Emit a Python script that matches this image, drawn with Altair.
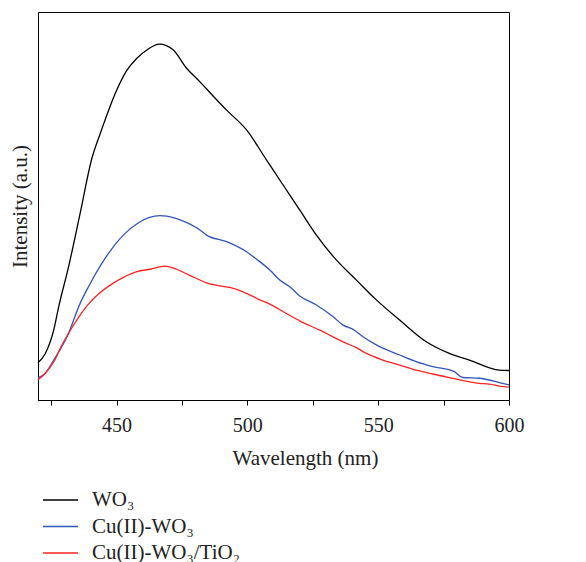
import altair as alt
import pandas as pd

# Wavelength (nm) and intensity (a.u., 0-100 scale)
wo3_wl = [420, 422.8, 426, 427.9, 431.7, 436.1, 440.6, 443.8, 450.1, 454, 457.8, 461.6, 466.4, 471.7,
          476.8, 481.9, 487, 492.1, 499.7, 507.3, 512.4, 520, 526.4, 534, 541.7, 549.3, 558.2, 568.4,
          577.2, 584.9, 596.3, 600]
wo3_int = [9.6, 12.0, 18.0, 24.0, 34.4, 48.1, 62.3, 68.7, 79.9, 85.0, 88.1, 90.2, 91.7, 90.2,
           85.5, 82.0, 78.3, 74.7, 69.6, 61.9, 56.7, 49.0, 42.5, 36.1, 30.9, 25.8, 20.6, 15.0,
           12.0, 10.3, 7.7, 7.6]

cu_wl = [420, 422.8, 426, 431.1, 436.1, 439.3, 444.4, 452.6, 458.4, 466.6, 469.2, 474.3, 481.9,
         484.4, 492.1, 499.7, 503.5, 508.6, 512.4, 516.2, 520, 526.4, 532.7, 536.6, 540.4, 544.2,
         549.3, 558.2, 564.5, 570.9, 579.1, 582.3, 588.6, 596.3, 600]
cu_int = [5.7, 6.9, 10.3, 16.3, 24.9, 29.2, 35.2, 42.5, 45.7, 47.5, 47.4, 46.4, 43.8,
          42.5, 40.8, 38.2, 36.3, 33.5, 30.9, 29.2, 26.8, 24.5, 21.5, 19.3, 18.2, 16.3,
          14.2, 11.6, 9.9, 8.6, 7.3, 5.8, 5.6, 4.5, 3.9]

cuti_wl = [420, 422.8, 426.6, 428.5, 433.6, 436.1, 439.3, 443.1, 447.6, 452.6, 457.8, 462.9, 468.5,
           473, 476.8, 480, 484.4, 489.5, 493.3, 499.7, 504.1, 508.6, 514.9, 520, 527.7, 537.9,
           541.7, 545.5, 551.8, 558.2, 564.5, 570.9, 578.5, 588.6, 592.5, 596.3, 600]
cuti_int = [5.2, 6.9, 10.5, 13.3, 19.3, 21.9, 24.7, 27.3, 29.6, 31.6, 33.1, 33.7, 34.5,
            33.7, 32.5, 31.5, 30.2, 29.4, 29.0, 27.5, 26.0, 24.7, 22.3, 20.4, 18.0, 14.6,
            13.5, 12.0, 10.3, 9.0, 7.7, 6.7, 5.6, 4.3, 4.1, 3.6, 3.3]

series_names = ["WO₃", "Cu(II)-WO₃", "Cu(II)-WO₃/TiO₂"]
series_colors = ["#000000", "#3355bb", "#ff2222"]
tick_values = [425, 450, 475, 500, 525, 550, 575, 600]

rows = []
for name, wls, vals in zip(series_names, [wo3_wl, cu_wl, cuti_wl], [wo3_int, cu_int, cuti_int]):
    for w, v in zip(wls, vals):
        rows.append({"series": name, "wl": w, "v": v})
df = pd.DataFrame(rows)

FONT = "Liberation Serif"

chart = alt.Chart(df).mark_line(strokeWidth=1.3, interpolate="monotone").encode(
    x=alt.X("wl:Q",
            scale=alt.Scale(domain=[420, 600], nice=False, zero=False),
            axis=alt.Axis(title="Wavelength (nm)", values=tick_values,
                          labelExpr="datum.value % 50 == 0 ? datum.label : ''",
                          grid=False, tickSize=5, tickColor="black", domainColor="black",
                          labelFont=FONT, labelFontSize=20, labelColor="#222222",
                          labelPadding=10, labelFlush=False,
                          titleFont=FONT, titleFontSize=21, titleFontWeight="normal",
                          titleColor="#222222", titleX=267, titleY=64,
                          titleBaseline="alphabetic", titleAlign="center")),
    y=alt.Y("v:Q",
            scale=alt.Scale(domain=[0, 100], nice=False),
            axis=alt.Axis(title="Intensity (a.u.)", labels=False, ticks=False, grid=False,
                          domainColor="black",
                          titleFont=FONT, titleFontSize=21, titleFontWeight="normal",
                          titleColor="#222222", titleX=-18, titleY=194, titleAngle=-90,
                          titleAlign="center", titleBaseline="middle")),
    color=alt.Color("series:N",
                    scale=alt.Scale(domain=series_names, range=series_colors),
                    legend=alt.Legend(title=None, orient="none", legendX=4, legendY=476,
                                      symbolType="stroke", symbolSize=1225,
                                      symbolStrokeWidth=1.3, labelFont=FONT,
                                      labelFontSize=21, labelColor="#222222",
                                      labelOffset=13, clipHeight=24, rowPadding=2.5)),
).properties(
    width=471, height=388,
    autosize=alt.AutoSizeParams(type="none"),
    padding={"left": 30, "top": 4, "right": 60, "bottom": 166},
).configure_view(stroke="black", strokeWidth=1)

chart.save("out.html", embed_options={"renderer": "svg", "actions": False})
